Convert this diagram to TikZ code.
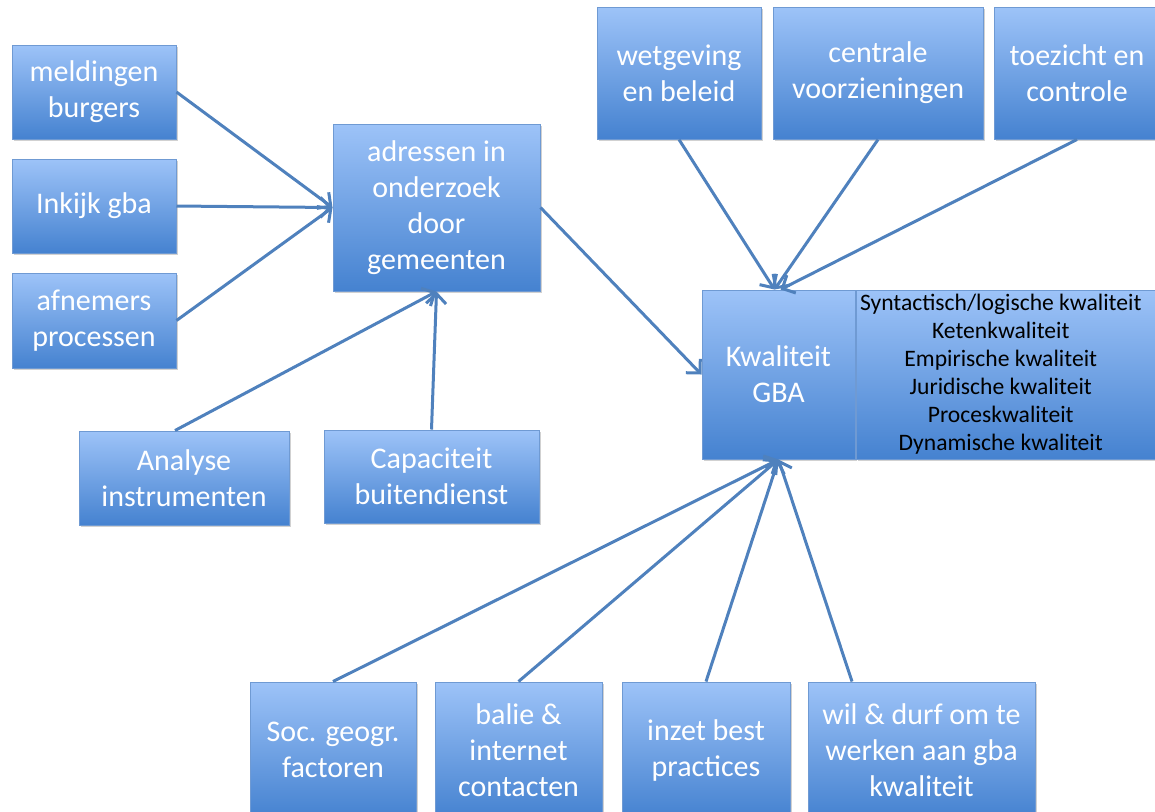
\documentclass[tikz,border=0pt]{standalone}
\usepackage{fontspec}
\setmainfont{Carlito}
\usepackage{tikz}
\usetikzlibrary{arrows.meta, positioning, shadows}
\definecolor{boxtop}{HTML}{9DC3F8}
\definecolor{boxbottom}{HTML}{4582D0}
\definecolor{boxline}{HTML}{6F9AD3}
\definecolor{arrowblue}{HTML}{4F81BD}
\tikzset{
  gbabox/.style  = {draw=boxline, line width=0.5pt, top color=boxtop,
                    bottom color=boxbottom, text=white, align=center,
                    font=\fontsize{15pt}{18pt}\selectfont, inner sep=2pt,
                    drop shadow={shadow xshift=1pt, shadow yshift=-1.2pt,
                                 fill=black!40, opacity=0.45}},
  listbox/.style = {gbabox, text=black, inner ysep=0pt,
                    font=\fontsize{11.8pt}{14pt}\selectfont},
  flow/.style    = {-{Straight Barb[length=5pt, width=10pt, line width=1.5pt]},
                    line width=1.5pt, arrowblue},
}

\begin{document}
\begin{tikzpicture}[x=0.5pt, y=-0.5pt]
    \useasboundingbox (0,0) rectangle (1155,811);

    % --- left column --------------------------------------------------------
    \node[gbabox, minimum width=82pt, minimum height=47pt] (melding) at (94,92)
      {meldingen\\burgers};
    \node[gbabox, minimum width=82pt, minimum height=47pt] (inkijk) at (94,206)
      {Inkijk gba};
    \node[gbabox, minimum width=82pt, minimum height=47.5pt] (afnemers) at (94,320.5)
      {afnemers\\processen};

    % --- address research ---------------------------------------------------
    \node[gbabox, minimum width=103.5pt, minimum height=83.5pt] (adressen) at (436.5,207.5)
      {adressen in\\onderzoek\\door\\gemeenten};
    \node[gbabox, minimum width=105pt, minimum height=47pt] (analyse) at (184,478)
      {Analyse\\instrumenten};
    \node[gbabox, minimum width=107.5pt, minimum height=46.5pt] (capaciteit) at (431.5,476.5)
      {Capaciteit\\buitendienst};

    % --- top row ------------------------------------------------------------
    \node[gbabox, minimum width=82pt, minimum height=66pt] (wetgeving) at (679,73)
      {wetgeving\\en beleid};
    \node[gbabox, minimum width=105pt, minimum height=66pt] (centrale) at (878,73)
      {centrale\\voorzieningen};
    \node[gbabox, minimum width=83pt, minimum height=66pt] (toezicht) at (1077,73)
      {toezicht en\\controle};

    % --- quality ------------------------------------------------------------
    \node[gbabox, minimum width=76.5pt, minimum height=84.5pt] (kwaliteit) at (778.5,374.5)
      {Kwaliteit\\GBA};
    \node[listbox, right=0pt of kwaliteit, minimum width=152.5pt, minimum height=84.5pt] (aspecten)
      {\begin{tabular}{@{}c@{\hspace{8pt}}}
       Syntactisch/logische kwaliteit\\Ketenkwaliteit\\Empirische kwaliteit\\
       Juridische kwaliteit\\Proceskwaliteit\\Dynamische kwaliteit
       \end{tabular}};

    % --- bottom row ---------------------------------------------------------
    \node[gbabox, minimum width=83pt, minimum height=68pt] (socgeo) at (333,750)
      {Soc. geogr.\\factoren};
    \node[gbabox, minimum width=83.5pt, minimum height=68pt] (balie) at (518.5,750)
      {balie \&\\internet\\contacten};
    \node[gbabox, minimum width=84pt, minimum height=68pt] (inzet) at (706,750)
      {inzet best\\practices};
    \node[gbabox, minimum width=113.5pt, minimum height=68pt] (wildurf) at (921.5,750)
      {wil \& durf om te\\werken aan gba\\kwaliteit};

    % --- edges --------------------------------------------------------------
    \draw[flow] (melding.east) -- (adressen.west);
    \draw[flow] (inkijk.east) -- (adressen.west);
    \draw[flow] (afnemers.east) -- (adressen.west);
    \draw[flow] ([xshift=-4.5pt]analyse.north) -- (adressen.south);
    \draw[flow] (capaciteit.north) -- (adressen.south);
    \draw[flow] (adressen.east) -- (kwaliteit.west);
    \draw[flow] (wetgeving.south) -- ([xshift=-2pt]kwaliteit.north);
    \draw[flow] (centrale.south) -- ([xshift=-2pt]kwaliteit.north);
    \draw[flow] (toezicht.south) -- ([xshift=1pt]kwaliteit.north);
    \draw[flow] (socgeo.north) -- (kwaliteit.south);
    \draw[flow] (balie.north) -- (kwaliteit.south);
    \draw[flow] (inzet.north) -- (kwaliteit.south);
    \draw[flow] ([xshift=-34.75pt]wildurf.north) -- (kwaliteit.south);
\end{tikzpicture}
\end{document}
